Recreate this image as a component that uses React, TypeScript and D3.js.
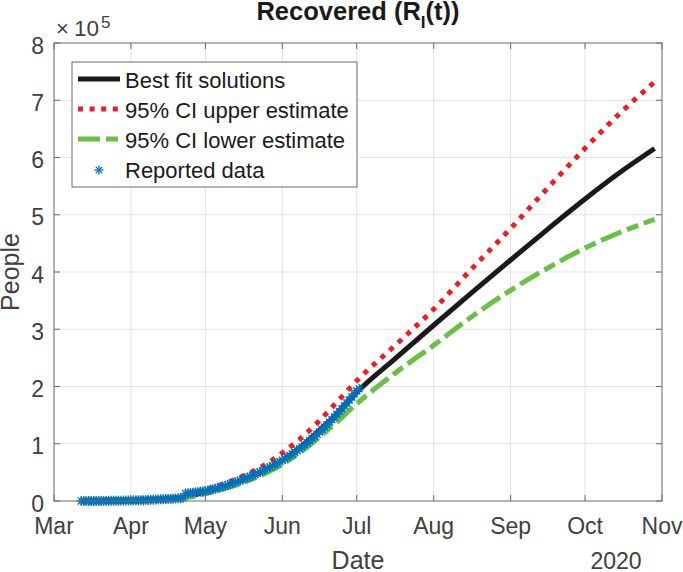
import React from "react";
import * as d3 from "d3";

// ---------- data ----------
const START_DATE = "2020-03-12"; // first reported day
const reported: number[] = [
  // Mar 12 - Mar 31 (x1e5)
  0.000, 0.000, 0.000, 0.000, 0.001, 0.001, 0.001, 0.001, 0.002, 0.002,
  0.002, 0.003, 0.003, 0.004, 0.004, 0.005, 0.006, 0.006, 0.007, 0.008,
  // Apr
  0.009, 0.010, 0.011, 0.012, 0.014, 0.015, 0.017, 0.019, 0.021, 0.023,
  0.025, 0.027, 0.029, 0.031, 0.033, 0.036, 0.038, 0.041, 0.044, 0.047,
  0.050, 0.053, 0.130, 0.135, 0.140, 0.146, 0.152, 0.158, 0.164, 0.168,
  // May
  0.172, 0.182, 0.193, 0.204, 0.216, 0.228, 0.241, 0.254, 0.268, 0.282,
  0.296, 0.311, 0.326, 0.342, 0.358, 0.375, 0.392, 0.410, 0.428, 0.447,
  0.466, 0.486, 0.506, 0.527, 0.548, 0.570, 0.592, 0.615, 0.638, 0.662, 0.686,
  // Jun
  0.711, 0.737, 0.764, 0.792, 0.821, 0.851, 0.882, 0.914, 0.947, 0.981,
  1.016, 1.052, 1.089, 1.127, 1.166, 1.206, 1.247, 1.289, 1.332, 1.376,
  1.421, 1.467, 1.514, 1.562, 1.611, 1.661, 1.712, 1.764, 1.817, 1.871,
  // Jul
  1.926, 1.960,
];

const fitDates: string[] = [
  "2020-03-12", "2020-04-01", "2020-04-20", "2020-05-01", "2020-05-12",
  "2020-05-26", "2020-06-01", "2020-06-08", "2020-06-15", "2020-06-22",
  "2020-07-01", "2020-07-16", "2020-08-01", "2020-08-16", "2020-09-01",
  "2020-09-16", "2020-10-01", "2020-10-15", "2020-10-29",
];
const bestFit: number[] = [0, 0.01, 0.05, 0.16, 0.30, 0.56, 0.71, 0.93, 1.2, 1.48, 1.9, 2.47, 3.07, 3.625, 4.21, 4.75, 5.275, 5.737, 6.157];
const upperCI: number[] = [0, 0.012, 0.06, 0.19, 0.36, 0.66, 0.84, 1.08, 1.36, 1.68, 2.1, 2.7, 3.35, 4.04, 4.76, 5.47, 6.16, 6.77, 7.32];
const lowerCI: number[] = [0, 0.008, 0.04, 0.13, 0.26, 0.5, 0.64, 0.84, 1.08, 1.34, 1.7, 2.22, 2.72, 3.21, 3.68, 4.07, 4.42, 4.69, 4.92];

const monthTicks: string[] = ["2020-03-01", "2020-04-01", "2020-05-01", "2020-06-01", "2020-07-01", "2020-08-01", "2020-09-01", "2020-10-01", "2020-11-01"];
const yTicks: number[] = [0, 1, 2, 3, 4, 5, 6, 7, 8];
const legendLabels: string[] = ["Best fit solutions", "95% CI upper estimate", "95% CI lower estimate", "Reported data"];
const SCALE = 1e5;

// ---------- layout ----------
const W = 683, H = 572;
const M = { left: 54, right: 662, top: 43, bottom: 501 };
const FONT = "'Liberation Sans', Arial, Helvetica, sans-serif";
const TXT = "#404040";
const AX = "#6b6b6b";
const BLUE = "#0072BD";

const parse = d3.utcParse("%Y-%m-%d");

export default function App() {
  const x = d3.scaleUtc()
    .domain([parse("2020-03-01")!, parse("2020-11-01")!])
    .range([M.left, M.right]);
  const y = d3.scaleLinear().domain([0, 8 * SCALE]).range([M.bottom, M.top]);

  const start = parse(START_DATE)!;
  const repPts = reported.map((v, i) => ({ d: d3.utcDay.offset(start, i), v: v * SCALE }));
  const fd = fitDates.map((s) => parse(s)!);

  const line = d3.line<{ d: Date; v: number }>()
    .x((p) => x(p.d)).y((p) => y(p.v)).curve(d3.curveMonotoneX);
  const mk = (arr: number[]) => line(arr.map((v, i) => ({ d: fd[i], v: v * SCALE })))!;

  const ticksX = monthTicks.map((s) => parse(s)!);
  const fmt = d3.utcFormat("%b");

  const star = (cx: number, cy: number, r: number, key: any) => (
    <g key={key} transform={`translate(${cx},${cy})`} stroke={BLUE} strokeWidth={1.3}>
      <line x1={-r} y1={0} x2={r} y2={0} />
      <line x1={0} y1={-r} x2={0} y2={r} />
      <line x1={-r * 0.7} y1={-r * 0.7} x2={r * 0.7} y2={r * 0.7} />
      <line x1={-r * 0.7} y1={r * 0.7} x2={r * 0.7} y2={-r * 0.7} />
    </g>
  );

  const legX0 = 72, legY0 = 62, legW = 285, legH = 125;
  const rowBase = [88, 118, 148, 178];

  return (
    <svg width={W} height={H} style={{ position: "absolute", left: 0, top: 0, background: "#fff" }} fontFamily={FONT}>
      <rect x={0} y={0} width={W} height={H} fill="#fff" />
      {/* grid */}
      <g stroke="#e3e3e3" strokeWidth={1}>
        {ticksX.slice(1, -1).map((t, i) => (
          <line key={i} x1={x(t)} x2={x(t)} y1={M.top} y2={M.bottom} />
        ))}
        {yTicks.slice(1, -1).map((t, i) => (
          <line key={i} x1={M.left} x2={M.right} y1={y(t * SCALE)} y2={y(t * SCALE)} />
        ))}
      </g>

      {/* curves */}
      <path d={mk(bestFit)} fill="none" stroke="#1a1a1a" strokeWidth={5} />
      <path d={mk(upperCI)} fill="none" stroke="#ee1c25" strokeWidth={5} strokeDasharray="5 6.6" />
      <path d={mk(lowerCI)} fill="none" stroke="#6abf45" strokeWidth={5} strokeDasharray="22 6 12 6" />

      {/* reported */}
      {repPts.map((p, i) => star(x(p.d), y(p.v), 5, i))}

      {/* axes frame & ticks */}
      <rect x={M.left} y={M.top} width={M.right - M.left} height={M.bottom - M.top} fill="none" stroke={AX} strokeWidth={1} />
      <g stroke={AX} strokeWidth={1}>
        {ticksX.map((t, i) => (
          <g key={i}>
            <line x1={x(t)} x2={x(t)} y1={M.bottom} y2={M.bottom - 6} />
            <line x1={x(t)} x2={x(t)} y1={M.top} y2={M.top + 6} />
          </g>
        ))}
        {yTicks.map((t, i) => (
          <g key={i}>
            <line x1={M.left} x2={M.left + 6} y1={y(t * SCALE)} y2={y(t * SCALE)} />
            <line x1={M.right} x2={M.right - 6} y1={y(t * SCALE)} y2={y(t * SCALE)} />
          </g>
        ))}
      </g>

      {/* tick labels */}
      <g fill={TXT} fontSize={23}>
        {ticksX.map((t, i) => (
          <text key={i} x={x(t)} y={534} textAnchor="middle">{fmt(t)}</text>
        ))}
        {yTicks.map((t, i) => (
          <text key={i} x={44} y={y(t * SCALE) + 10.5} textAnchor="end">{t}</text>
        ))}
        <text x={616} y={569} textAnchor="middle">2020</text>
      </g>

      {/* exponent */}
      <g fill={TXT}>
        <text x={56} y={36} fontSize={22}>×</text>
        <text x={74} y={36} fontSize={22.5}>10</text>
        <text x={101} y={28} fontSize={17}>5</text>
      </g>

      {/* axis labels */}
      <text x={(M.left + M.right) / 2} y={569} textAnchor="middle" fontSize={25} fill={TXT}>Date</text>
      <text transform={`translate(18.5,${(M.top + M.bottom) / 2}) rotate(-90)`} textAnchor="middle" fontSize={25} fill={TXT}>People</text>

      {/* title */}
      <text x={(M.left + M.right) / 2} y={20} textAnchor="middle" fontSize={25.5} fontWeight="bold" fill="#1a1a1a">
        Recovered (R<tspan fontSize={17} dy={8}>I</tspan><tspan dy={-8}>(t))</tspan>
      </text>

      {/* legend */}
      <rect x={legX0} y={legY0} width={legW} height={legH} fill="#fff" stroke={AX} strokeWidth={1} />
      <line x1={78} x2={120} y1={rowBase[0] - 9} y2={rowBase[0] - 9} stroke="#1a1a1a" strokeWidth={5} />
      <line x1={78} x2={120} y1={rowBase[1] - 9} y2={rowBase[1] - 9} stroke="#ee1c25" strokeWidth={5} strokeDasharray="5 6.6" />
      <line x1={78} x2={120} y1={rowBase[2] - 9} y2={rowBase[2] - 9} stroke="#6abf45" strokeWidth={5} strokeDasharray="22 6 12 6" />
      {star(99, rowBase[3] - 8, 4.5, "leg")}
      <g fill="#1a1a1a" fontSize={22}>
        {legendLabels.map((l, i) => (
          <text key={i} x={125} y={rowBase[i]}>{l}</text>
        ))}
      </g>
    </svg>
  );
}
